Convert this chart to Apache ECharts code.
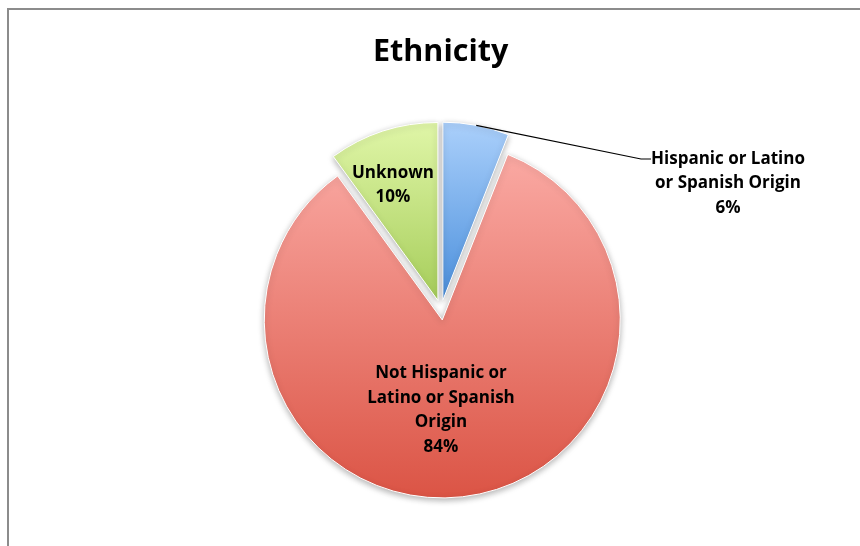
<!DOCTYPE html>
<html>
<head>
<meta charset="utf-8">
<script src="https://cdn.jsdelivr.net/npm/echarts@6/dist/echarts.min.js"></script>
<style>
html,body{margin:0;padding:0;background:#fff;}
#chart{width:860px;height:546px;}
</style>
</head>
<body>
<div id="chart"></div>
<script>
const categories = ['Hispanic or Latino\nor Spanish Origin', 'Not Hispanic or\nLatino or Spanish\nOrigin', 'Unknown'];
const values = [6, 84, 10];
const topColors = ['#abd0fb', '#faa9a3', '#e0f6a8'];
const bottomColors = ['#4a8fdc', '#db5445', '#a6cd5a'];

const chart = echarts.init(document.getElementById('chart'));
const font = '"Open Sans", Lato, sans-serif';

const sliceData = categories.map((name, i) => ({
  name: name,
  value: values[i],
  selected: true,
  itemStyle: {
    color: new echarts.graphic.LinearGradient(0, 0, 0, 1, [
      {offset: 0, color: topColors[i]},
      {offset: 1, color: bottomColors[i]}
    ])
  }
}));

const labelData = categories.map((name, i) => ({
  name: name,
  value: values[i],
  label: {position: i === 0 ? 'outside' : 'inside'},
  labelLine: {show: i === 0}
}));

chart.setOption({
  animation: false,
  title: {
    text: 'Ethnicity',
    left: 368,
    top: 32,
    textStyle: {fontFamily: font, fontSize: 30.5, fontWeight: 'bold', color: '#000'}
  },
  graphic: [{
    type: 'polyline',
    shape: {points: [[8, 546], [8, 9], [860, 9]]},
    style: {stroke: '#8c8c8c', lineWidth: 2, fill: null},
    silent: true
  }],
  series: [{
    type: 'pie',
    z: 2,
    center: [441, 310],
    radius: 178,
    startAngle: 90,
    clockwise: true,
    selectedMode: 'multiple',
    selectedOffset: 10,
    silent: true,
    data: sliceData,
    itemStyle: {
      borderColor: '#ffffff',
      borderWidth: 1,
      shadowBlur: 6,
      shadowColor: 'rgba(0,0,0,0.3)',
      shadowOffsetY: 2
    },
    label: {show: false},
    labelLine: {show: false}
  }, {
    type: 'pie',
    z: 5,
    center: [441, 310],
    radius: 188,
    startAngle: 90,
    clockwise: true,
    selectedMode: false,
    silent: true,
    data: labelData,
    itemStyle: {color: 'rgba(0,0,0,0)', borderWidth: 0},
    label: {
      show: true,
      fontFamily: font,
      fontSize: 17,
      fontWeight: 'bold',
      color: '#000',
      lineHeight: 24.5,
      align: 'center',
      formatter: p => (p.dataIndex === 0 ? ' \n \n' : '') + p.name + '\n' + p.value + '%'
    },
    labelLine: {
      lineStyle: {color: '#000', width: 1.2},
      length2: 10,
      smooth: false
    },
    labelLayout: function (params) {
      if (params.dataIndex === 0) {
        return {x: 728, y: 159, align: 'center', verticalAlign: 'middle'};
      } else if (params.dataIndex === 1) {
        return {x: 441, y: 410, align: 'center', verticalAlign: 'middle'};
      } else {
        return {x: 393, y: 185, align: 'center', verticalAlign: 'middle'};
      }
    }
  }]
});
</script>
</body>
</html>
